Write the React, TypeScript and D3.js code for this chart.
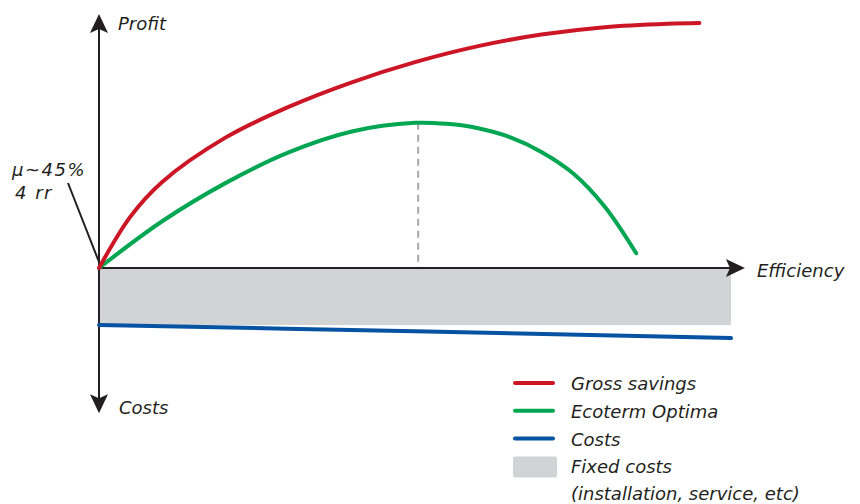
import React from 'react';
import * as d3 from 'd3';

// efficiency (0..100) vs profit (0..100, costs negative)
const grossX = [0, 5, 10, 20, 30, 40, 50, 60, 70, 80, 90, 95];
const grossY = [0, 21, 35, 53, 65.5, 75.5, 83.7, 90.2, 94.9, 97.9, 99.3, 99.6];
const ecoX = [0, 10, 20, 30, 40, 50, 55, 60, 65, 70, 75, 80, 85];
const ecoY = [0, 19, 34.5, 47, 55.5, 59, 58.6, 56.8, 53.2, 47.2, 38.5, 25, 6];
const costX = [0, 50, 100];
const costY = [-23.2, -25.7, -28.5];
const fixedCost = -23.2;
const optimumX = 50.5;

const legendLabels = ['Gross savings', 'Ecoterm Optima', 'Costs', 'Fixed costs'];
const legendNote = '(installation, service, etc)';
const noteLines = ['\u03bc~45%', '4 rr'];

const RED = '#cc1626';
const GREEN = '#00a651';
const BLUE = '#0753a3';
const GRAY = '#d1d3d4';
const INK = '#231f20';
const FONT = '"DejaVu Sans", sans-serif';

export default function App() {
  const width = 860;
  const height = 504;

  const x = d3.scaleLinear().domain([0, 100]).range([99, 731]);
  const y = d3.scaleLinear().domain([0, 100]).range([268, 22]);

  const line = d3
    .line<[number, number]>()
    .x((d) => x(d[0]))
    .y((d) => y(d[1]))
    .curve(d3.curveCatmullRom.alpha(0.5));

  const gross = grossX.map((v, i) => [v, grossY[i]] as [number, number]);
  const eco = ecoX.map((v, i) => [v, ecoY[i]] as [number, number]);
  const cost = costX.map((v, i) => [v, costY[i]] as [number, number]);

  const x0 = x(0);
  const y0 = y(0);
  const yTop = y(103.3);
  const yBottom = y(-59);
  const xEnd = x(102.2);

  const peakY = y(d3.max(ecoY)!);

  const legendColors = [RED, GREEN, BLUE];

  return (
    <div style={{ position: 'absolute', left: 0, top: 0 }}>
      <svg width={width} height={height} style={{ display: 'block', background: '#fff' }}>
        {/* fixed costs band */}
        <rect x={x(0)} y={y0} width={x(100) - x(0)} height={y(fixedCost) - y0} fill={GRAY} />

        {/* optimum guide */}
        <line
          x1={x(optimumX)}
          x2={x(optimumX)}
          y1={peakY}
          y2={y0}
          stroke="#a7a9ac"
          strokeWidth={2}
          strokeDasharray="7,5"
        />

        {/* axes */}
        <line x1={x0} x2={x0} y1={yTop + 12} y2={yBottom - 12} stroke={INK} strokeWidth={2} />
        <line x1={x0} x2={xEnd - 12} y1={y0} y2={y0} stroke={INK} strokeWidth={2} />
        <path
          d={`M${x0},${yTop} L${x0 + 9},${yTop + 19} L${x0},${yTop + 15} L${x0 - 9},${yTop + 19} Z`}
          fill={INK}
        />
        <path
          d={`M${x0},${yBottom} L${x0 + 9},${yBottom - 19} L${x0},${yBottom - 15} L${x0 - 9},${yBottom - 19} Z`}
          fill={INK}
        />
        <path
          d={`M${xEnd},${y0} L${xEnd - 19},${y0 - 9} L${xEnd - 15},${y0} L${xEnd - 19},${y0 + 9} Z`}
          fill={INK}
        />

        {/* curves */}
        <path d={line(cost)!} fill="none" stroke={BLUE} strokeWidth={4} strokeLinecap="round" />
        <path d={line(eco)!} fill="none" stroke={GREEN} strokeWidth={4} strokeLinecap="round" />
        <path d={line(gross)!} fill="none" stroke={RED} strokeWidth={4} strokeLinecap="round" />

        {/* axis labels */}
        <g fontFamily={FONT} fontStyle="italic" fontSize={18} fill={INK}>
          <text x={118} y={30}>
            Profit
          </text>
          <text x={757} y={277}>
            Efficiency
          </text>
          <text x={119} y={414}>
            Costs
          </text>
          <text x={12} y={176} letterSpacing={1.5}>
            {noteLines[0]}
          </text>
          <text x={15} y={199} letterSpacing={1.5}>
            {noteLines[1]}
          </text>
        </g>
        <line x1={68} y1={183} x2={x0} y2={y0 - 6} stroke={INK} strokeWidth={2} />

        {/* legend */}
        <g fontFamily={FONT} fontStyle="italic" fontSize={18} fill={INK}>
          {legendLabels.map((label, i) => {
            const cy = 383 + i * 27.8;
            return (
              <g key={label}>
                {i < 3 ? (
                  <line
                    x1={515}
                    x2={553}
                    y1={cy}
                    y2={cy}
                    stroke={legendColors[i]}
                    strokeWidth={4}
                    strokeLinecap="round"
                  />
                ) : (
                  <rect x={513} y={cy - 10} width={44} height={21} rx={2} fill={GRAY} />
                )}
                <text x={571} y={cy + 7}>
                  {label}
                </text>
              </g>
            );
          })}
          <text x={571} y={500}>
            {legendNote}
          </text>
        </g>
      </svg>
    </div>
  );
}
